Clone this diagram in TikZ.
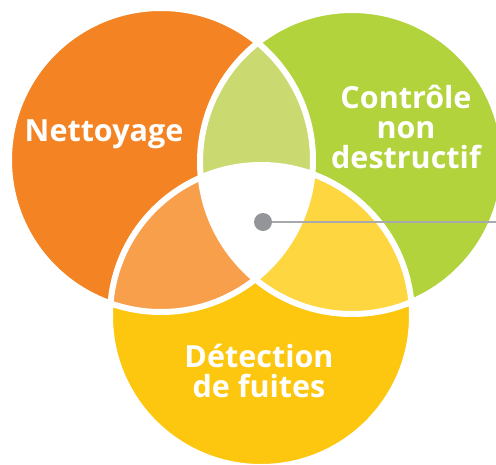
\documentclass[tikz,border=0pt]{standalone}
\usepackage{fontspec}
\setmainfont{Open Sans}
\usepackage{tikz}
\definecolor{orangeC}{HTML}{F48423}
\definecolor{greenC}{HTML}{B2D33C}
\definecolor{yellowC}{HTML}{FDC60F}
\definecolor{ogC}{HTML}{CAD970}
\definecolor{oyC}{HTML}{F89F4B}
\definecolor{gyC}{HTML}{FED640}
\definecolor{dotC}{HTML}{939598}
\definecolor{lineC}{HTML}{A7A9AC}
\tikzset{label text/.style={text=white, align=center, font=\bfseries\fontsize{30.5}{30}\selectfont}}
\begin{document}
\begin{tikzpicture} [x=1pt,y=-1pt]
\useasboundingbox (0,0) rectangle (496,464);
\coordinate (o) at (161,160);
\coordinate (g) at (352,162);
\coordinate (y) at (261,316);
\fill [orangeC] (o) circle (152pt);
\fill [greenC] (g) circle (152pt);
\fill [yellowC] (y) circle (151pt);
\begin{scope}
\clip (o) circle (152pt);
\fill [ogC] (g) circle (152pt);
\fill [oyC] (y) circle (151pt);
\end{scope}
\begin{scope}
\clip (g) circle (152pt);
\fill [gyC] (y) circle (151pt);
\clip (o) circle (152pt);
\fill [white] (y) circle (151pt);
\end{scope}
\draw [white, line width=6pt] (o) circle (152pt);
\draw [white, line width=6pt] (g) circle (152pt);
\draw [white, line width=6pt] (y) circle (151pt);
\node [label text] (nettoyage) at (104,134) {Nettoyage};
\node [label text] (controle) at (406,127) {Contrôle\\non\\destructif};
\node [label text] (detection) at (259,371) {Détection\\de fuites};
\node [circle, fill=dotC, minimum size=18pt, inner sep=0pt] (dot) at (263,222) {};
\coordinate (lineend) at (496,222);
\draw [lineC, line width=2pt] (dot) -- (lineend);
\end{tikzpicture}
\end{document}
